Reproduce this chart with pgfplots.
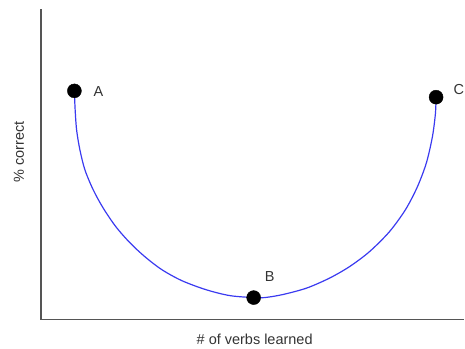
\documentclass[border=0pt]{standalone}
\usepackage{fontspec}
\setmainfont{Liberation Sans}
\usepackage{pgfplots}
\pgfplotsset{compat=1.18}
\definecolor{axGray}{HTML}{555555}
\definecolor{txGray}{HTML}{333333}
\definecolor{curveBlue}{HTML}{3A3AF0}

\begin{document}
\begin{tikzpicture}
  \begin{axis}[
      scale only axis,
      width=424pt, height=311pt,
      xmin=41, xmax=465,
      ymin=29, ymax=340,
      axis x line*=bottom,
      axis y line*=left,
      axis line style={-, axGray, line width=1.3pt},
      xtick=\empty, ytick=\empty,
      clip=false,
      font=\fontsize{14.5}{17}\selectfont,
    ]
    % bounding box of the whole picture, in pixel units
    \useasboundingbox (axis cs:0,0) rectangle (axis cs:465,349);

    \addplot[curveBlue, line width=1.2pt, smooth]
      coordinates {
        (74.5,258) (75.2,240) (76.7,219) (80,199) (85,179) (93.3,159)
        (103.3,140.7) (116,122) (130,106) (145,92) (162,79) (182,68)
        (206,59) (230,53) (254,51)
        (265,51) (283,54) (307,60.5) (330,70.5) (350,82) (370,97)
        (390,117) (406,139) (418,162) (427,186) (433,212) (436,235)
        (436.7,251.7)
      };

    \addplot[only marks, mark=*, mark size=7pt, black]
      coordinates {(74.5,258) (254,51) (436.7,251.7)};

    \node[txGray] at (axis cs:98.5,257.5) {A};
    \node[txGray] at (axis cs:270,72) {B};
    \node[txGray] at (axis cs:459.5,259) {C};

    \node[txGray, rotate=90] at (axis cs:19,197) {\% correct};
    \node[txGray] at (axis cs:255,9) {\# of verbs learned};
  \end{axis}
\end{tikzpicture}
\end{document}
